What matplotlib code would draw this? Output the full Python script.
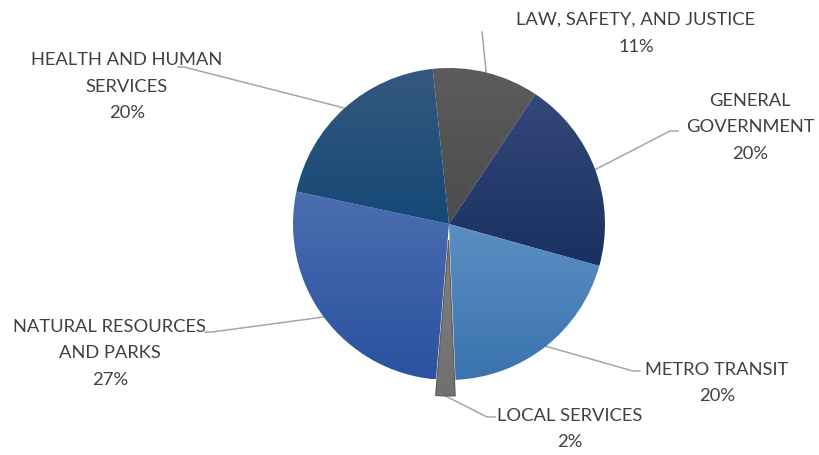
import numpy as np
import matplotlib.pyplot as plt
from matplotlib.colors import LinearSegmentedColormap

# Budget share by program area (percent)
categories = ["LAW, SAFETY, AND JUSTICE", "GENERAL\nGOVERNMENT", "METRO TRANSIT",
              "LOCAL SERVICES", "NATURAL RESOURCES\nAND PARKS", "HEALTH AND HUMAN\nSERVICES"]
shares = [11, 20, 20, 2, 27, 20]

# top / bottom colour of each slice's gradient
top_colors = ["#5c5c5c", "#34497a", "#5b8fc3", "#808080", "#4c6db0", "#35597f"]
bottom_colors = ["#4c4c4c", "#1a3060", "#3a73ae", "#707070", "#2a52a0", "#154877"]
explode = [0, 0, 0, 16, 0, 0]  # pie() takes explode in data units here

W, H = 820, 456
fig = plt.figure(figsize=(W / 100, H / 100), dpi=100)
ax = fig.add_axes([0, 0, 1, 1])


def py(y):
    # pixel row (from top) -> data y
    return H - y


cx, cy, R = 449, py(225), 156
wedges, _ = ax.pie(shares, startangle=96, counterclock=False, explode=explode,
                   center=(cx, cy), radius=R, colors=top_colors,
                   wedgeprops=dict(linewidth=0))

# gradient fill per slice, light at top, dark at bottom
grad = np.linspace(0, 1, 256).reshape(-1, 1)
for w, c0, c1 in zip(wedges, top_colors, bottom_colors):
    ext = w.get_path().get_extents()
    cmap = LinearSegmentedColormap.from_list("g", [c0, c1])
    im = ax.imshow(grad, cmap=cmap, extent=[ext.x0, ext.x1, ext.y0, ext.y1],
                   origin="upper", aspect="auto", zorder=2)
    im.set_clip_path(w)
    w.set_facecolor("none")
    w.set_zorder(3)
wedges[3].set_edgecolor("#5a5a5a")
wedges[3].set_linewidth(0.8)

# label layout: (elbow x, elbow y, end x, text x, text y top row)
layout = [
    (482, 33, 482, 636, 20),
    (670, 132, 678, 750, 101),
    (633, 372, 640, 717, 370),
    (487, 418, 495, 570, 416),
    (212, 333, 205, 110, 327),
    (184, 68, 178, 127, 60),
]

line_gap = 26.5
for w, name, val, (ex, ey, endx, tx, ty) in zip(wedges, categories, shares, layout):
    mid = np.deg2rad((w.theta1 + w.theta2) / 2)
    wx, wy = w.center
    ax0 = wx + w.r * np.cos(mid)
    ay0 = wy + w.r * np.sin(mid)
    ax.plot([ax0, ex, endx], [ay0, py(ey), py(ey)], color="#a6a6a6", lw=1.1, zorder=1)
    lines = name.split("\n") + [f"{val}%"]
    for i, s in enumerate(lines):
        ax.text(tx, py(ty + i * line_gap), s, ha="center", va="center",
                fontsize=13.2, family="Lato", color="#404040")

ax.set_xlim(0, W)
ax.set_ylim(0, H)
ax.set_aspect("auto")
ax.axis("off")
fig.savefig("out.png", dpi=100)
